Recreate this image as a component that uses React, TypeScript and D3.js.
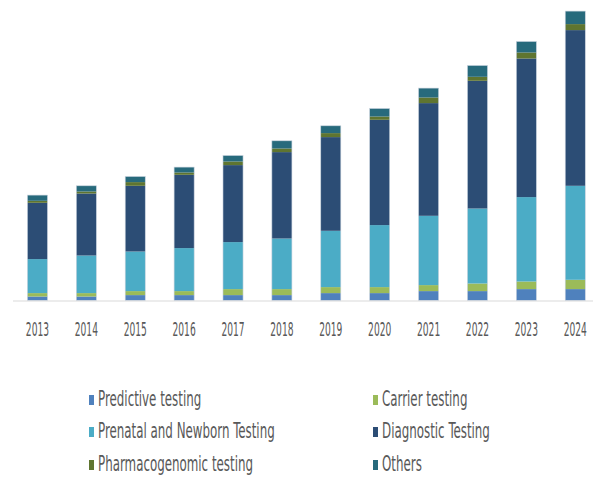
import React, { useEffect, useRef } from "react";
import * as d3 from "d3";

const years = ["2013", "2014", "2015", "2016", "2017", "2018", "2019", "2020", "2021", "2022", "2023", "2024"];
const segments = [
  "Predictive testing",
  "Carrier testing",
  "Prenatal and Newborn Testing",
  "Diagnostic Testing",
  "Pharmacogenomic testing",
  "Others",
];
const colors = ["#4f81bd", "#9bbb59", "#4bacc6", "#2c4d75", "#5f7530", "#276a7c"];

// values (relative units)
const predictive = [4, 4, 5.4, 5.4, 5.4, 5.4, 7.4, 7.4, 9.4, 9.4, 11.4, 11.4];
const carrier = [3.4, 3.4, 4, 4, 6, 6, 6, 6, 6, 7.6, 7.6, 9.3];
const prenatal = [34, 37.6, 39.6, 43, 47, 50.6, 56.3, 62, 69.3, 75, 84.4, 94];
const diagnostic = [56.3, 62, 65.7, 73.3, 77, 86.4, 93.7, 105.3, 112.7, 127.7, 138.6, 155.7];
const pharma = [2, 2, 3.7, 2.3, 3.6, 3.6, 4, 3.3, 5.6, 4, 6, 6];
const others = [5.7, 5.7, 5.6, 5.4, 6, 7.7, 7.3, 8, 9.4, 11.3, 11, 13];

const W = 595;
const H = 477;
const font = "'DejaVu Sans Condensed', 'DejaVu Sans', sans-serif";

function App() {
  const ref = useRef<SVGSVGElement>(null);

  useEffect(() => {
    const svg = d3.select(ref.current);
    svg.selectAll("*").remove();

    const rows = years.map((y, i) => ({
      year: y,
      "Predictive testing": predictive[i],
      "Carrier testing": carrier[i],
      "Prenatal and Newborn Testing": prenatal[i],
      "Diagnostic Testing": diagnostic[i],
      "Pharmacogenomic testing": pharma[i],
      Others: others[i],
    }));

    const stack = d3.stack<any>().keys(segments);
    const series = stack(rows);

    const x = d3
      .scaleBand()
      .domain(years)
      .range([13, 599.7])
      .paddingInner(0.59)
      .paddingOuter(0.295);

    const y = d3.scaleLinear().domain([0, 300]).range([300.5, 0.5]);

    const color = d3.scaleOrdinal<string>().domain(segments).range(colors);

    // bars
    svg
      .append("g")
      .selectAll("g")
      .data(series)
      .join("g")
      .attr("fill", (d) => color(d.key))
      .selectAll("rect")
      .data((d) => d)
      .join("rect")
      .attr("x", (d: any) => x(d.data.year)!)
      .attr("y", (d) => y(d[1]))
      .attr("width", x.bandwidth())
      .attr("height", (d) => y(d[0]) - y(d[1]));

    // thin light outline round each bar
    svg
      .append("g")
      .selectAll("rect")
      .data(series[series.length - 1])
      .join("rect")
      .attr("x", (d: any) => x(d.data.year)!)
      .attr("y", (d) => y(d[1]))
      .attr("width", x.bandwidth())
      .attr("height", (d) => y(0) - y(d[1]))
      .attr("fill", "none")
      .attr("stroke", "#c9d3de")
      .attr("stroke-width", 0.6);

    // x axis line
    svg
      .append("line")
      .attr("x1", 13)
      .attr("x2", 593)
      .attr("y1", y(0) + 0.5)
      .attr("y2", y(0) + 0.5)
      .attr("stroke", "#d9d9d9")
      .attr("stroke-width", 1.2);

    // year labels
    svg
      .append("g")
      .selectAll("text")
      .data(years)
      .join("text")
      .attr("transform", (d) => `translate(${x(d)! + x.bandwidth() / 2},336) scale(0.78,1.45)`)
      .attr("text-anchor", "middle")
      .attr("font-family", font)
      .attr("font-size", 13)
      .attr("fill", "#595959")
      .text((d) => d);

    // legend
    const legendPos = [
      [89, 400],
      [373, 400],
      [89, 432],
      [373, 432],
      [89, 465],
      [373, 465],
    ];
    const lg = svg
      .append("g")
      .selectAll("g")
      .data(segments)
      .join("g")
      .attr("transform", (d, i) => `translate(${legendPos[i][0]},${legendPos[i][1]})`);
    lg.append("rect")
      .attr("x", 0)
      .attr("y", -5)
      .attr("width", 5)
      .attr("height", 10)
      .attr("fill", (d) => color(d));
    lg.append("text")
      .attr("transform", "translate(9,6) scale(0.88,1.4)")
      .attr("font-family", font)
      .attr("font-size", 15)
      .attr("fill", "#595959")
      .text((d) => d);
  }, []);

  return (
    <svg
      ref={ref}
      width={W}
      height={H}
      style={{ position: "absolute", left: 0, top: 0, background: "#fff" }}
    ></svg>
  );
}

export default App;
